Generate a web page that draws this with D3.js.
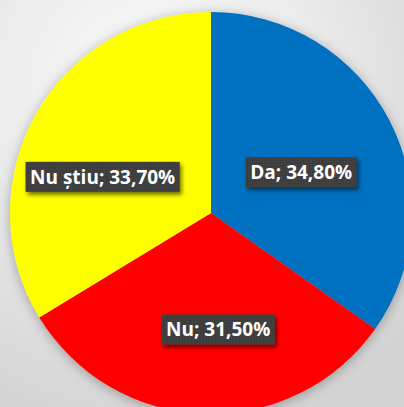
<!DOCTYPE html>
<html><head><meta charset="utf-8">
<script src="https://cdn.jsdelivr.net/npm/d3@7"></script>
<style>html,body{margin:0;padding:0;overflow:hidden;background:#e0e0e0}</style>
</head><body><svg id="c" width="404" height="407"></svg>
<script>
const categories = ["Da", "Nu", "Nu știu"];
const values = [34.80, 31.50, 33.70];
const valueLabels = ["34,80%", "31,50%", "33,70%"];
const colors = ["#0070C0", "#FF0000", "#FFFF00"];

const W = 404, H = 407;
const cx = 211, cy = 213, R = 201;
// small layout nudges for label boxes (px), relative to arc centroid
const labelNudge = [[-8, 10], [11, 6], [-12, 18]];

const svg = d3.select("#c");
const defs = svg.append("defs");

const bg = defs.append("radialGradient").attr("id", "bg")
  .attr("cx", "38%").attr("cy", "22%").attr("r", "85%");
bg.append("stop").attr("offset", "0%").attr("stop-color", "#fbfbfb");
bg.append("stop").attr("offset", "45%").attr("stop-color", "#ececec");
bg.append("stop").attr("offset", "100%").attr("stop-color", "#d3d3d3");

const pieShadow = defs.append("filter").attr("id", "pieShadow")
  .attr("x", "-20%").attr("y", "-20%").attr("width", "140%").attr("height", "140%");
pieShadow.append("feDropShadow").attr("dx", 0).attr("dy", 2).attr("stdDeviation", 6)
  .attr("flood-color", "#000").attr("flood-opacity", 0.3);

const boxShadow = defs.append("filter").attr("id", "boxShadow")
  .attr("x", "-20%").attr("y", "-40%").attr("width", "140%").attr("height", "180%");
boxShadow.append("feDropShadow").attr("dx", 2).attr("dy", 3).attr("stdDeviation", 2)
  .attr("flood-color", "#000").attr("flood-opacity", 0.55);

const pat = defs.append("pattern").attr("id", "dots").attr("patternUnits", "userSpaceOnUse")
  .attr("width", 3).attr("height", 3);
pat.append("rect").attr("width", 3).attr("height", 3).attr("fill", "#3d3d3d");
pat.append("rect").attr("x", 1).attr("y", 1).attr("width", 1).attr("height", 1).attr("fill", "#4e4e4e");

svg.append("rect").attr("width", W).attr("height", H).attr("fill", "url(#bg)");

const pie = d3.pie().sort(null).value(d => d)(values);
const arc = d3.arc().innerRadius(0).outerRadius(R);
const labelArc = d3.arc().innerRadius(R * 0.55).outerRadius(R * 0.55);

const g = svg.append("g").attr("transform", `translate(${cx},${cy})`);
g.append("g").attr("filter", "url(#pieShadow)")
  .selectAll("path").data(pie).join("path")
  .attr("d", arc)
  .attr("fill", (d, i) => colors[i]);

const lg = g.selectAll("g.lbl").data(pie).join("g").attr("class", "lbl")
  .attr("transform", (d, i) => {
    const c = labelArc.centroid(d);
    return `translate(${c[0] + labelNudge[i][0]},${c[1] + labelNudge[i][1]})`;
  });

const rects = lg.append("rect").attr("fill", "url(#dots)").attr("filter", "url(#boxShadow)");
const texts = lg.append("text")
  .attr("text-anchor", "middle")
  .attr("dy", "0.36em")
  .attr("fill", "#ffffff")
  .attr("font-family", "'Open Sans', sans-serif")
  .attr("font-weight", 700)
  .attr("font-size", 19)
  .text((d, i) => `${categories[i]}; ${valueLabels[i]}`);

texts.each(function (d, i) {
  const w = this.getComputedTextLength();
  const bw = w + 9, bh = 30;
  d3.select(this.parentNode).select("rect")
    .attr("x", -bw / 2).attr("y", -bh / 2)
    .attr("width", bw).attr("height", bh);
});
</script></body></html>
